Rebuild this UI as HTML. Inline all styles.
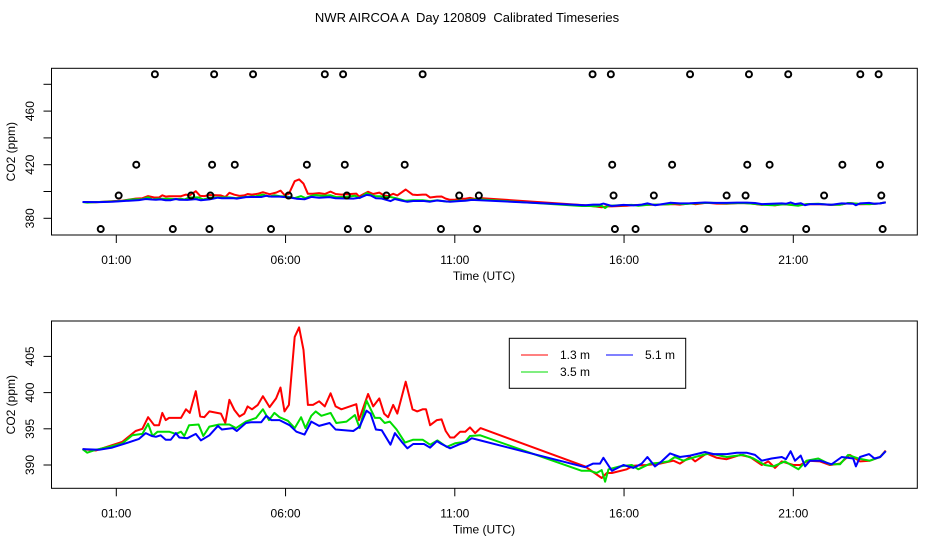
<!DOCTYPE html>
<html><head><meta charset="utf-8">
<style>
html,body{margin:0;padding:0;background:#fff;}
svg{display:block;font-family:"Liberation Sans",sans-serif;}
</style></head>
<body>
<svg id="chart" width="936" height="540" viewBox="0 0 936 540">
<text x="467" y="22" text-anchor="middle" font-size="13" style="white-space:pre">NWR AIRCOA A  Day 120809  Calibrated Timeseries</text>
</svg>
<script>
const xTicks = [1, 6, 11, 16, 21];
const xTickLabels = ["01:00", "06:00", "11:00", "16:00", "21:00"];
const topYTicks = [380, 400, 420, 440, 460, 480];
const topYLabels = ["380", "", "420", "", "460", ""];
const botYTicks = [390, 395, 400, 405];
const botYLabels = ["390", "395", "400", "405"];
const seriesNames = ["1.3 m", "3.5 m", "5.1 m"];

const redT = [0,0.39,0.78,1.18,1.57,1.77,1.94,2.12,2.26,2.36,2.46,2.56,2.91,3.06,3.17,3.35,3.48,3.60,3.75,4.09,4.22,4.34,4.49,4.64,4.78,4.88,5.01,5.18,5.33,5.53,5.72,5.85,5.97,6.10,6.27,6.40,6.53,6.66,6.81,6.99,7.16,7.33,7.48,7.65,8.09,8.17,8.31,8.44,8.59,8.77,8.91,9.03,9.18,9.30,9.55,9.75,9.89,10.05,10.15,10.27,10.47,10.61,10.73,10.86,10.98,11.16,11.31,11.45,11.60,11.76,14.85,15.34,15.49,15.64,16.08,16.28,16.67,17.06,17.46,17.65,17.95,18.10,18.44,18.74,19.03,19.43,19.72,20.07,20.26,20.46,20.66,21.00,21.20,21.44,21.79,22.08,22.38,22.67,22.97,23.26,23.56,23.73];
const redV = [392.2,392.0,392.6,393.2,394.7,395.0,396.6,395.5,395.5,397.2,396.2,396.5,396.5,397.7,397.2,400.2,396.7,396.6,397.4,397.1,395.8,399.0,397.6,396.7,397.1,398.1,397.7,398.3,399.5,398.0,399.2,400.7,397.4,398.3,407.7,409.0,405.9,398.3,398.3,398.8,398.1,399.9,398.1,397.7,398.4,396.2,398.1,399.8,398.1,399.2,397.1,396.6,398.3,397.1,401.5,397.7,397.4,397.7,397.7,395.5,396.2,396.3,394.7,393.8,393.8,394.6,394.6,395.2,394.4,395.1,389.8,388.2,388.9,388.9,389.4,389.9,390.0,390.2,390.6,390.2,391.1,390.5,391.6,391.0,390.8,391.4,391.1,390.0,390.5,389.6,390.5,390.0,390.0,390.6,390.5,390.0,390.2,391.4,390.5,390.6,391.1,392.0];

const greenT = [0,0.14,0.39,0.78,1.18,1.47,1.77,1.94,2.07,2.22,2.56,2.76,2.91,3.01,3.15,3.43,3.57,3.75,4.04,4.34,4.54,4.83,5.13,5.33,5.51,5.67,5.82,6.07,6.27,6.46,6.59,6.76,6.89,7.06,7.33,7.50,7.80,8.05,8.19,8.39,8.64,8.79,8.93,9.08,9.28,9.53,9.77,10.05,10.27,10.49,10.76,11.01,11.31,11.45,11.75,14.75,14.99,15.19,15.34,15.44,15.54,15.88,16.23,16.42,16.77,17.06,17.31,17.50,17.75,18.10,18.34,18.54,19.03,19.52,19.82,20.16,20.41,20.75,21.15,21.39,21.74,22.08,22.38,22.62,22.92,23.26,23.56,23.73];
const greenV = [392.2,391.7,392.1,392.5,393.0,394.1,394.3,395.7,394.0,394.6,394.6,394.3,394.6,394.0,395.5,395.6,394.0,395.3,395.6,395.6,395.1,396.0,396.5,397.7,396.2,397.2,396.6,396.1,395.1,396.6,395.1,396.8,397.4,396.8,397.2,395.8,396.0,396.9,395.1,398.9,396.5,396.5,395.8,396.0,394.9,393.1,393.5,393.5,392.8,393.4,392.5,393.0,393.2,394.0,394.1,389.2,389.2,388.9,389.3,387.7,389.4,389.8,390.0,389.4,390.2,390.3,390.5,391.1,390.6,391.1,391.4,391.6,391.1,391.4,390.9,390.0,389.8,390.5,389.4,390.6,390.9,390.1,390.1,391.4,390.9,390.6,391.1,391.9];

const blueT = [0,0.49,0.88,1.28,1.67,1.87,2.05,2.17,2.31,2.46,2.61,2.76,2.86,3.10,3.35,3.50,3.75,4.00,4.12,4.44,4.56,4.83,4.98,5.28,5.43,5.58,5.82,6.12,6.32,6.56,6.76,6.99,7.30,7.48,8.00,8.19,8.39,8.51,8.67,8.84,9.10,9.23,9.43,9.60,9.77,10.09,10.27,10.47,10.61,10.86,11.11,11.35,11.50,11.75,14.85,15.09,15.29,15.39,15.64,15.98,16.28,16.52,16.69,16.91,17.11,17.36,17.65,17.95,18.39,18.64,19.03,19.33,19.62,19.87,20.07,20.36,20.66,20.78,20.92,21.05,21.22,21.35,21.49,21.79,22.13,22.43,22.77,22.85,22.97,23.24,23.40,23.57,23.73];
const blueV = [392.2,392.1,392.4,393.0,393.6,394.4,394.0,393.9,394.1,393.5,393.5,394.4,393.8,393.7,394.3,393.4,394.1,395.4,394.9,395.1,394.7,395.8,395.9,395.9,396.8,396.2,396.2,395.5,394.6,394.2,396.0,395.4,395.8,394.9,394.7,395.3,397.5,397.1,394.9,394.8,392.8,394.4,393.2,392.3,392.9,392.9,392.4,393.3,392.9,392.3,392.8,393.2,393.7,393.4,389.7,390.2,390.2,391.0,389.2,390.0,389.6,390.2,391.1,389.8,390.5,391.6,391.1,391.3,391.8,391.5,391.5,391.7,391.7,391.4,390.6,390.9,391.1,390.8,391.9,390.6,391.3,389.8,390.6,390.6,390.1,391.1,390.9,389.8,391.1,391.5,390.9,391.1,391.9];

const flagT = [2.14,3.89,5.04,7.16,7.70,10.05,15.07,15.61,17.95,19.69,20.85,22.98,23.52,
  1.59,3.83,4.50,6.63,7.75,9.52,15.65,17.42,19.64,20.30,22.45,23.56,
  1.07,3.21,3.78,6.09,7.81,8.98,11.13,11.71,15.69,16.88,19.03,19.59,21.91,23.60,
  0.54,2.67,3.75,5.57,7.84,8.44,10.59,11.66,15.73,16.34,18.49,19.55,21.38,23.64];
const flagV = [487.5,487.5,487.5,487.5,487.5,487.5,487.5,487.5,487.5,487.5,487.5,487.5,487.5,
  420,420,420,420,420,420,420,420,420,420,420,420,
  397,397,397,397,397,397,397,397,397,397,397,397,397,397,
  372,372,372,372,372,372,372,372,372,372,372,372,372,372];

const NS = "http://www.w3.org/2000/svg";
const svg = document.getElementById("chart");
function mk(tag, attrs, parent) {
  const e = document.createElementNS(NS, tag);
  for (const k in attrs) e.setAttribute(k, attrs[k]);
  (parent || svg).appendChild(e);
  return e;
}
const xScale = t => 82.45 + t * 33.85;
const X0 = 51.5, X1 = 917.3;

function panel(cfg) {
  const g = mk("g", {});
  
  
  const ys = v => cfg.y0 - (v - cfg.v0) * cfg.k;
  const frame = mk("rect", {x: X0, y: cfg.top, width: X1 - X0, height: cfg.bottom - cfg.top, fill: "none", stroke: "#000", "stroke-width": 1}, g);
  
  
  xTicks.forEach((t, i) => {
    const x = xScale(t);
    const tk = mk("line", {x1: x, x2: x, y1: cfg.bottom, y2: cfg.bottom + 8, stroke: "#000"}, g);
    
    
    const lb = mk("text", {x: x, y: cfg.bottom + 29, "text-anchor": "middle", "font-size": 12}, g);
    
    
    lb.textContent = xTickLabels[i];
  });
  const xt = mk("text", {x: 484, y: cfg.bottom + 45, "text-anchor": "middle", "font-size": 12}, g);
  
  
  xt.textContent = "Time (UTC)";
  cfg.yTicks.forEach((v, i) => {
    const y = ys(v);
    const tk = mk("line", {x1: X0 - 8, x2: X0, y1: y, y2: y, stroke: "#000"}, g);
    
    
    if (cfg.yLabels[i]) {
      const lb = mk("text", {x: 0, y: 0, transform: `translate(34,${y}) rotate(-90)`, "text-anchor": "middle", "font-size": 12}, g);
      
      
      lb.textContent = cfg.yLabels[i];
    }
  });
  const yt = mk("text", {x: 0, y: 0, transform: `translate(15,${(cfg.top + cfg.bottom) / 2}) rotate(-90)`, "text-anchor": "middle", "font-size": 12}, g);
  
  
  yt.textContent = "CO2 (ppm)";
  const series = [[redT, redV, "#f00", "line-1-3m"], [greenT, greenV, "#0d0", "line-3-5m"], [blueT, blueV, "#00f", "line-5-1m"]];
  series.forEach(s => {
    const d = s[0].map((t, i) => (i ? "L" : "M") + xScale(t).toFixed(1) + "," + ys(s[1][i]).toFixed(1)).join("");
    const p = mk("path", {d: d, fill: "none", stroke: s[2], "stroke-width": 2, "stroke-linejoin": "round"}, g);
    
    
  });
  if (cfg.flags) {
    flagT.forEach((t, i) => {
      const c = mk("circle", {cx: xScale(t), cy: ys(flagV[i]), r: 3, fill: "none", stroke: "#000", "stroke-width": 2}, g);
      
      
    });
  }
}
panel({name: "top-panel", top: 68.3, bottom: 235, y0: 218.3, v0: 380, k: 1.34, yTicks: topYTicks, yLabels: topYLabels, flags: true});
panel({name: "bottom-panel", top: 321, bottom: 488.3, y0: 465, v0: 390, k: 7.24, yTicks: botYTicks, yLabels: botYLabels, flags: false});

const lg = mk("g", {});


mk("rect", {x: 509.3, y: 338.3, width: 176.4, height: 50, fill: "#fff", stroke: "#000"}, lg);
const legItems = [[521, 355, "#f00", 0], [521, 372, "#0d0", 1], [606, 355, "#00f", 2]];
legItems.forEach(it => {
  const l = mk("line", {x1: it[0], x2: it[0] + 27, y1: it[1], y2: it[1], stroke: it[2], "stroke-width": 1}, lg);
  
  
  const t = mk("text", {x: it[0] + 39, y: it[1] + 4, "font-size": 12}, lg);
  
  
  t.textContent = seriesNames[it[3]];
});
</script>
</body></html>
